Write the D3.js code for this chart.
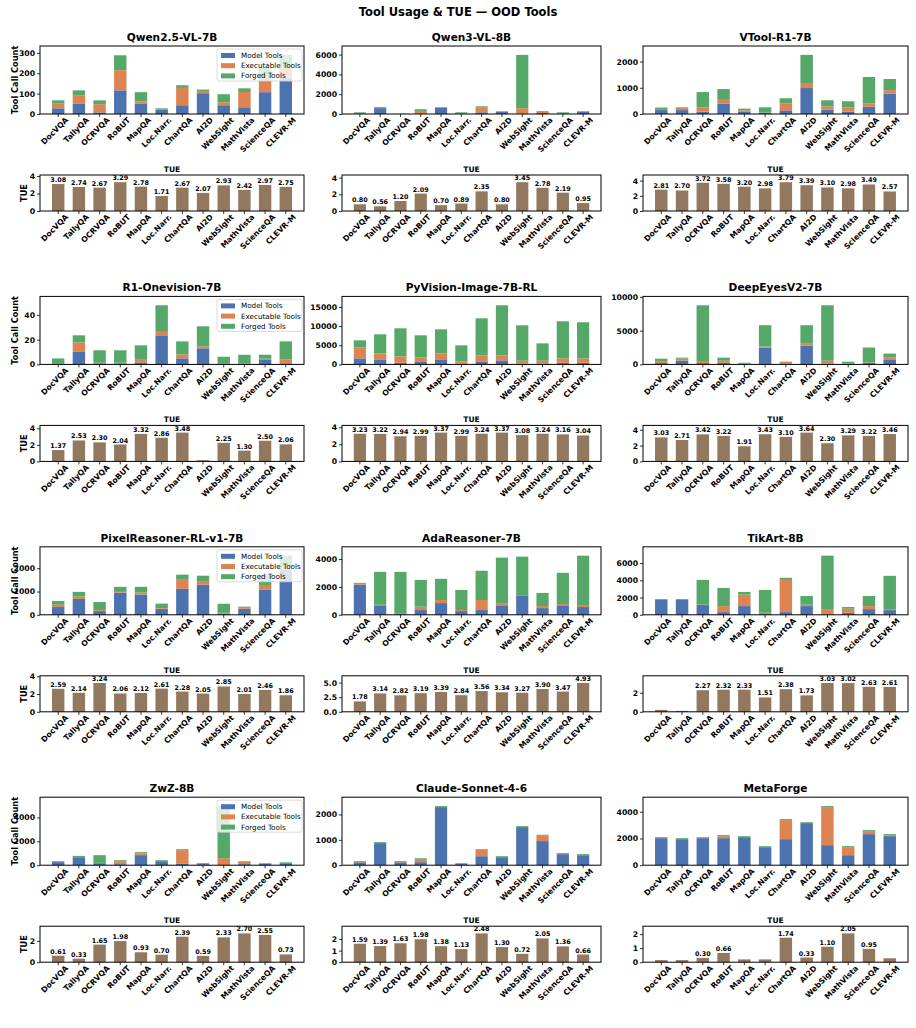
<!DOCTYPE html>
<html>
<head>
<meta charset="utf-8">
<script src="https://cdn.jsdelivr.net/npm/d3@7"></script>
<style>
  body { margin: 0; background: #fff; }
  svg { font-family: 'DejaVu Sans', sans-serif; }
</style>
</head>
<body>
<svg id="chart" width="916" height="1028"></svg>
<script>
var categories = ['DocVQA', 'TallyQA', 'OCRVQA', 'RoBUT', 'MapQA', 'Loc.Narr.', 'ChartQA', 'AI2D', 'WebSight', 'MathVista', 'ScienceQA', 'CLEVR-M']

var models = ['Qwen2.5-VL-7B', 'Qwen3-VL-8B', 'VTool-R1-7B',
  'R1-Onevision-7B', 'PyVision-Image-7B-RL', 'DeepEyesV2-7B',
  'PixelReasoner-RL-v1-7B', 'AdaReasoner-7B', 'TikArt-8B',
  'ZwZ-8B', 'Claude-Sonnet-4-6', 'MetaForge']

// tool call counts, one row per model, one column per category
var modelTools = [
  [28, 52, 8, 116, 52, 20, 43, 102, 43, 33, 107, 178],
  [20, 590, 10, 60, 610, 30, 170, 200, 20, 100, 30, 220],
  [150, 150, 90, 400, 100, 40, 140, 990, 170, 90, 280, 780],
  [0, 10.5, 0.3, 0.3, 1.6, 23.5, 4.9, 13, 0.3, 0.4, 4.1, 0.2],
  [1570, 1310, 440, 780, 1310, 170, 780, 1050, 170, 170, 440, 440],
  [200, 550, 200, 250, 80, 2500, 150, 2800, 100, 60, 230, 750],
  [333, 680, 160, 955, 870, 260, 1115, 1300, 40, 260, 1070, 1950],
  [2170, 630, 50, 340, 840, 265, 340, 630, 1350, 480, 630, 555],
  [1715, 1715, 1130, 310, 1010, 80, 310, 1010, 40, 230, 660, 545],
  [260, 670, 170, 85, 840, 335, 140, 90, 10, 85, 120, 170],
  [110, 870, 110, 120, 2290, 45, 355, 315, 1500, 950, 435, 395],
  [2025, 1950, 2025, 2025, 2100, 1350, 1950, 3150, 1500, 750, 2325, 2175]
]
var execTools = [
  [23, 38, 40, 99, 10, 5, 85, 11, 14, 75, 65, 45],
  [20, 20, 5, 240, 20, 30, 510, 40, 560, 120, 20, 20],
  [40, 80, 165, 140, 40, 10, 260, 190, 125, 155, 120, 130],
  [0.5, 7.3, 1, 1, 2.7, 3.5, 3.2, 1.6, 0.2, 0.2, 0.5, 3.9],
  [2880, 1570, 1650, 1050, 1570, 610, 1570, 1300, 790, 790, 1130, 1130],
  [200, 300, 300, 300, 40, 150, 200, 350, 450, 40, 50, 300],
  [100, 100, 40, 30, 85, 30, 390, 120, 45, 40, 175, 80],
  [50, 90, 20, 240, 220, 75, 720, 210, 70, 150, 140, 145],
  [15, 15, 40, 700, 1330, 150, 3740, 160, 620, 470, 350, 115],
  [10, 20, 25, 250, 140, 10, 1120, 10, 580, 195, 10, 10],
  [10, 5, 10, 120, 5, 5, 245, 5, 5, 210, 5, 5],
  [15, 15, 20, 150, 15, 15, 1425, 15, 2850, 600, 225, 75]
]
var forgedTools = [
  [16, 26, 19, 73, 45, 3, 13, 7, 40, 18, 53, 67],
  [130, 90, 10, 180, 70, 110, 100, 60, 5390, 80, 120, 60],
  [55, 25, 580, 410, 65, 205, 200, 1075, 230, 240, 1010, 425],
  [4.3, 5.7, 10.1, 10.1, 11.1, 20.8, 10.5, 16.2, 5.7, 7.2, 3.2, 14.5],
  [1830, 4970, 7330, 5760, 6270, 4190, 9680, 13080, 9240, 4530, 9680, 9420],
  [450, 150, 8250, 450, 130, 3150, 50, 2650, 8200, 300, 2220, 550],
  [160, 205, 350, 215, 245, 190, 220, 260, 390, 50, 475, 510],
  [70, 2360, 3010, 1920, 1520, 1440, 2100, 3260, 2750, 940, 2240, 3540],
  [100, 100, 2880, 2110, 310, 2650, 240, 1010, 6200, 200, 1170, 3860],
  [65, 90, 645, 85, 110, 75, 80, 70, 4360, 55, 50, 60],
  [40, 35, 40, 35, 35, 30, 30, 35, 35, 40, 35, 35],
  [60, 60, 55, 75, 60, 60, 75, 60, 75, 75, 75, 75]
]
var stackTicks = [
  [0, 100, 200, 300], [0, 2000, 4000, 6000], [0, 1000, 2000],
  [0, 20, 40], [0, 5000, 10000, 15000], [0, 5000, 10000],
  [0, 1000, 2000], [0, 2000, 4000], [0, 2000, 4000, 6000],
  [0, 2000, 4000], [0, 1000, 2000], [0, 2000, 4000]
]

var tueValues = [
  [3.08, 2.74, 2.67, 3.29, 2.78, 1.71, 2.67, 2.07, 2.93, 2.42, 2.97, 2.75],
  [0.80, 0.56, 1.20, 2.09, 0.70, 0.89, 2.35, 0.80, 3.45, 2.78, 2.19, 0.95],
  [2.81, 2.70, 3.72, 3.58, 3.20, 2.98, 3.79, 3.39, 3.10, 2.98, 3.49, 2.57],
  [1.37, 2.53, 2.30, 2.04, 3.32, 2.86, 3.48, 0.15, 2.25, 1.30, 2.50, 2.06],
  [3.23, 3.22, 2.94, 2.99, 3.37, 2.99, 3.24, 3.37, 3.08, 3.24, 3.16, 3.04],
  [3.03, 2.71, 3.42, 3.22, 1.91, 3.43, 3.10, 3.64, 2.30, 3.29, 3.22, 3.46],
  [2.59, 2.14, 3.24, 2.06, 2.12, 2.61, 2.28, 2.05, 2.85, 2.01, 2.46, 1.86],
  [1.78, 3.14, 2.82, 3.19, 3.39, 2.84, 3.56, 3.34, 3.27, 3.90, 3.47, 4.93],
  [0.20, 0.10, 2.27, 2.32, 2.33, 1.51, 2.38, 1.73, 3.03, 3.02, 2.63, 2.61],
  [0.61, 0.33, 1.65, 1.98, 0.93, 0.70, 2.39, 0.59, 2.33, 2.70, 2.55, 0.73],
  [1.59, 1.39, 1.63, 1.98, 1.38, 1.13, 2.48, 1.30, 0.72, 2.05, 1.36, 0.66],
  [0.15, 0.15, 0.30, 0.66, 0.20, 0.20, 1.74, 0.33, 1.10, 2.05, 0.95, 0.28]
]
// bars below this TUE get no value label
var labelMin = 0.3
var tueTicks = [
  ['0', '2', '4'], ['0', '2', '4'], ['0', '2', '4'],
  ['0', '2', '4'], ['0', '2', '4'], ['0', '2', '4'],
  ['0', '2', '4'], ['0.0', '2.5', '5.0'], ['0', '2'],
  ['0', '2'], ['0', '1', '2'], ['0', '1', '2']
]

var seriesKeys = ['model', 'exec', 'forged']
var seriesNames = ['Model Tools', 'Executable Tools', 'Forged Tools']
var color = d3.scaleOrdinal(seriesKeys, ['#4c72b0', '#dd8452', '#55a868'])
var tueColor = '#937860'

var svg = d3.select('#chart')

svg.append('text')
  .attr('x', 458).attr('y', 16)
  .attr('text-anchor', 'middle')
  .attr('font-weight', 'bold')
  .attr('font-size', 11.5)
  .text('Tool Usage & TUE \u2014 OOD Tools')

var colLeft = [40, 342, 643]
var colRight = [304, 601, 908]
var rowStep = 250.4
var stackTop = 46, stackH = 68
var tueTop = 175, tueH = 36

var styleAxis = function (sel) {
  sel.attr('font-family', null).attr('font-size', null)
  sel.select('.domain').remove()
  sel.selectAll('line').attr('stroke', '#000').attr('stroke-width', 0.8)
  sel.selectAll('text').attr('font-weight', 'bold').attr('font-size', 7.7).attr('fill', '#000')
}

var drawXAxis = function (g, x, h) {
  var ax = g.append('g')
    .attr('transform', 'translate(0,' + h + ')')
    .call(d3.axisBottom(x).tickSize(3).tickPadding(2))
  styleAxis(ax)
  ax.selectAll('text')
    .attr('text-anchor', 'end')
    .attr('dy', '0.55em')
    .attr('transform', 'translate(4,0) rotate(-45)')
}

models.forEach(function (name, i) {
  var col = i % 3
  var row = Math.floor(i / 3)
  var x0 = colLeft[col]
  var w = colRight[col] - colLeft[col]

  var x = d3.scaleBand().domain(categories).range([0, w])
    .paddingInner(0.4).paddingOuter(0.58)

  // --- stacked tool-call panel ---
  var rows = categories.map(function (c, k) {
    return { cat: c, model: modelTools[i][k], exec: execTools[i][k], forged: forgedTools[i][k] }
  })
  var series = d3.stack().keys(seriesKeys)(rows)
  var maxTotal = d3.max(rows, function (d) { return d.model + d.exec + d.forged })
  var y = d3.scaleLinear().domain([0, maxTotal * 1.15]).range([stackH, 0])

  var g = svg.append('g')
    .attr('transform', 'translate(' + x0 + ',' + (stackTop + row * rowStep) + ')')

  g.append('g').selectAll('g')
    .data(series)
    .join('g')
    .attr('fill', function (d) { return color(d.key) })
    .selectAll('rect')
    .data(function (d) { return d })
    .join('rect')
    .attr('x', function (d) { return x(d.data.cat) })
    .attr('width', x.bandwidth())
    .attr('y', function (d) { return y(d[1]) })
    .attr('height', function (d) { return Math.max(0, y(d[0]) - y(d[1])) })

  var yAx = g.append('g').call(d3.axisLeft(y).tickValues(stackTicks[i]).tickFormat(d3.format('d')).tickSize(3).tickPadding(2))
  styleAxis(yAx)
  drawXAxis(g, x, stackH)

  g.append('text')
    .attr('x', w / 2).attr('y', -5)
    .attr('text-anchor', 'middle')
    .attr('font-weight', 'bold')
    .attr('font-size', 10.6)
    .text(name)

  if (col === 0) {
    g.append('text')
      .attr('transform', 'translate(' + (15.5 - x0) + ',' + (stackH / 2) + ') rotate(-90)')
      .attr('text-anchor', 'middle')
      .attr('dy', '0.35em')
      .attr('font-weight', 'bold')
      .attr('font-size', 8.2)
      .text('Tool Call Count')

    // legend, semi-transparent like matplotlib's
    var lg = g.append('g').attr('transform', 'translate(' + (w - 87) + ',3)')
    lg.append('rect')
      .attr('width', 85).attr('height', 32).attr('rx', 2)
      .attr('fill', '#fff').attr('fill-opacity', 0.8)
      .attr('stroke', '#d0d0d0').attr('stroke-width', 0.8)
    seriesKeys.forEach(function (k, j) {
      lg.append('rect')
        .attr('x', 4).attr('y', 4 + j * 10.2)
        .attr('width', 14).attr('height', 5)
        .attr('fill', color(k))
      lg.append('text')
        .attr('x', 24).attr('y', 6.5 + j * 10.2)
        .attr('dy', '0.35em')
        .attr('font-size', 7.2)
        .text(seriesNames[j])
    })
  }

  g.append('rect')
    .attr('width', w).attr('height', stackH)
    .attr('fill', 'none').attr('stroke', '#000').attr('stroke-width', 1)

  // --- TUE panel ---
  var tue = categories.map(function (c, k) {
    return { cat: c, v: tueValues[i][k] }
  })
  var yt = d3.scaleLinear().domain([0, d3.max(tueValues[i]) * 1.25]).range([tueH, 0])
  var t = svg.append('g')
    .attr('transform', 'translate(' + x0 + ',' + (tueTop + row * rowStep) + ')')

  t.selectAll('rect.bar')
    .data(tue)
    .join('rect')
    .attr('class', 'bar')
    .attr('x', function (d) { return x(d.cat) })
    .attr('width', x.bandwidth())
    .attr('y', function (d) { return yt(d.v) })
    .attr('height', function (d) { return tueH - yt(d.v) })
    .attr('fill', tueColor)

  t.selectAll('text.lab')
    .data(tue.filter(function (d) { return d.v >= labelMin }))
    .join('text')
    .attr('class', 'lab')
    .attr('x', function (d) { return x(d.cat) + x.bandwidth() / 2 })
    .attr('y', function (d) { return yt(d.v) - 2 })
    .attr('text-anchor', 'middle')
    .attr('font-weight', 'bold')
    .attr('font-size', 6.4)
    .text(function (d) { return d3.format('.2f')(d.v) })

  var tv = tueTicks[i].map(Number)
  var ytAx = t.append('g').call(d3.axisLeft(yt).tickValues(tv)
    .tickFormat(function (d, k) { return tueTicks[i][k] }).tickSize(3).tickPadding(2))
  styleAxis(ytAx)
  drawXAxis(t, x, tueH)

  t.append('text')
    .attr('x', w / 2).attr('y', -3)
    .attr('text-anchor', 'middle')
    .attr('font-weight', 'bold')
    .attr('font-size', 7.6)
    .text('TUE')

  if (col === 0) {
    t.append('text')
      .attr('transform', 'translate(' + (24 - x0) + ',' + (tueH / 2) + ') rotate(-90)')
      .attr('text-anchor', 'middle')
      .attr('dy', '0.35em')
      .attr('font-weight', 'bold')
      .attr('font-size', 8.2)
      .text('TUE')
  }

  t.append('rect')
    .attr('width', w).attr('height', tueH)
    .attr('fill', 'none').attr('stroke', '#000').attr('stroke-width', 1)
})
</script>
</body>
</html>
